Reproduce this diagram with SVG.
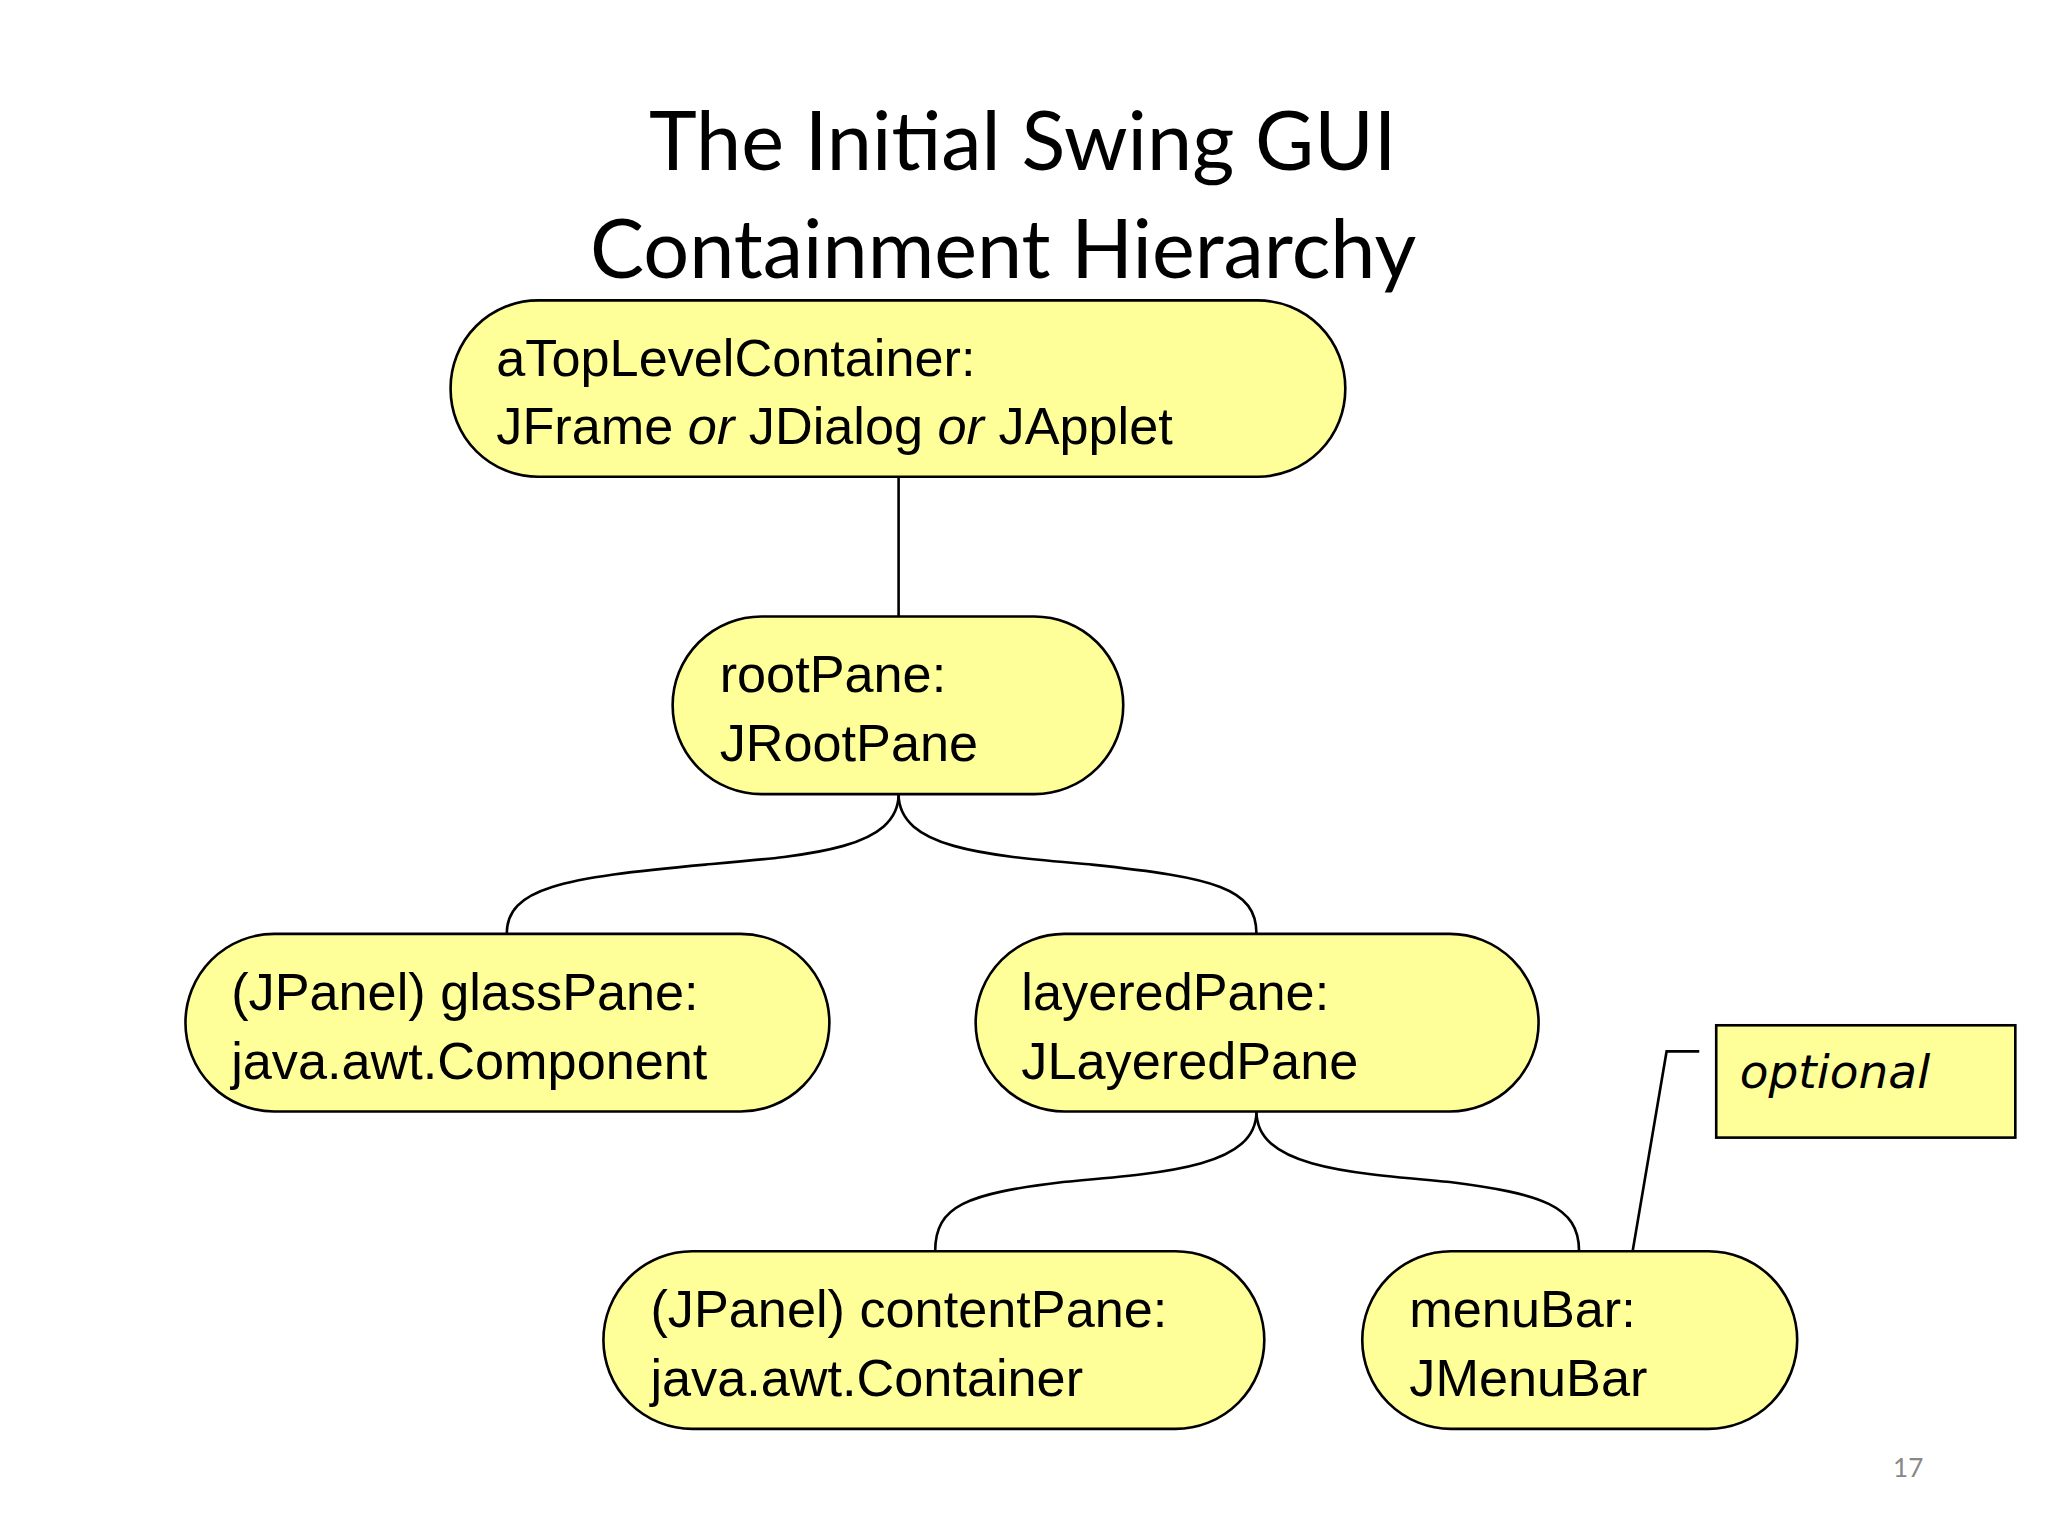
<svg xmlns="http://www.w3.org/2000/svg" width="2048" height="1536" viewBox="0 0 2048 1536">
<style>
.n{fill:#ffff99;stroke:#000;stroke-width:2}
.t{font-family:"Liberation Sans",Arial,sans-serif;font-size:40px;fill:#000}
.c{fill:none;stroke:#000;stroke-width:2}
.h{font-family:Lato,"Open Sans",sans-serif;font-size:62px;fill:#000;text-anchor:middle}
</style>
<rect width="2048" height="1536" fill="#fff"/>
<g transform="scale(1.3061)">
<g id="title"><text class="h" x="783" y="130">The Initial Swing GUI</text><text class="h" x="768" y="213">Containment Hierarchy</text></g>
<g id="connectors">
<path class="c" d="M688,365 L688,472"/>
<path class="c" d="M688,608 C688,650 620,655 540,662 C430,672 388,680 388,715"/>
<path class="c" d="M688,608 C688,650 756,655 836,662 C930,672 962,680 962,715"/>
<path class="c" d="M962,851 C962,893 894,898 814,905 C740,914 716,923 716,958"/>
<path class="c" d="M962,851 C962,893 1030,898 1110,905 C1180,914 1209,923 1209,958"/>
<path class="c" d="M1250,958 L1276,805 L1301,805"/>
</g>
<g id="top"><rect class="n" x="345" y="230" width="685" height="135" rx="67"/><text class="t" x="380" y="288">aTopLevelContainer:</text><text class="t" x="380" y="340">JFrame <tspan font-style="italic">or</tspan> JDialog <tspan font-style="italic">or</tspan> JApplet</text></g>
<g id="rootPane"><rect class="n" x="515" y="472" width="345" height="136" rx="68"/><text class="t" x="551" y="530">rootPane:</text><text class="t" x="551" y="583">JRootPane</text></g>
<g id="glassPane"><rect class="n" x="142" y="715" width="493" height="136" rx="68"/><text class="t" x="177" y="773">(JPanel) glassPane:</text><text class="t" x="177" y="826">java.awt.Component</text></g>
<g id="layeredPane"><rect class="n" x="747" y="715" width="431" height="136" rx="68"/><text class="t" x="782" y="773">layeredPane:</text><text class="t" x="782" y="826">JLayeredPane</text></g>
<g id="contentPane"><rect class="n" x="462" y="958" width="506" height="136" rx="68"/><text class="t" x="498" y="1016">(JPanel) contentPane:</text><text class="t" x="498" y="1069">java.awt.Container</text></g>
<g id="menuBar"><rect class="n" x="1043" y="958" width="333" height="136" rx="68"/><text class="t" x="1079" y="1016">menuBar:</text><text class="t" x="1079" y="1069">JMenuBar</text></g>
<g id="optional"><rect x="1314" y="785" width="229" height="86" fill="#ffff99" stroke="#000" stroke-width="2"/><text x="1332" y="833" font-family="'DejaVu Sans',sans-serif" font-style="italic" font-size="36">optional</text></g>
<text x="1461" y="1131" font-family="Lato,sans-serif" font-size="20" fill="#888" text-anchor="middle">17</text>
</g>
</svg>
